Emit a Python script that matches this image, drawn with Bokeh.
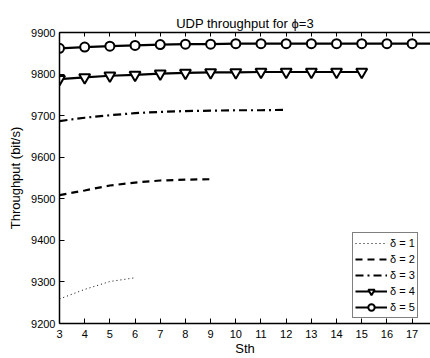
from bokeh.plotting import figure
from bokeh.models import Range1d, LinearAxis, FixedTicker, Legend, LegendItem
from bokeh.embed import file_html
from bokeh.resources import INLINE

# ---- data ----
sth_d1 = [3, 4, 5, 6]
thr_d1 = [9259, 9282, 9301, 9310]
sth_d2 = [3, 4, 5, 6, 7, 8, 9]
thr_d2 = [9509, 9520, 9532, 9539, 9544, 9546, 9547]
sth_d3 = [3, 4, 5, 6, 7, 8, 9, 10, 11, 12]
thr_d3 = [9687, 9695, 9701, 9706, 9709, 9711, 9712, 9713, 9713, 9714]
sth_d4 = [3, 4, 5, 6, 7, 8, 9, 10, 11, 12, 13, 14, 15]
thr_d4 = [9788, 9792, 9796, 9798, 9801, 9803, 9804, 9804, 9805, 9805, 9805, 9805, 9805]
sth_d5 = [3, 4, 5, 6, 7, 8, 9, 10, 11, 12, 13, 14, 15, 16, 17, 18]
thr_d5 = [9862, 9865, 9867, 9869, 9871, 9872, 9872, 9873, 9873, 9873, 9873, 9873, 9873, 9873, 9873, 9873]
labels = ["δ = 1", "δ = 2", "δ = 3", "δ = 4", "δ = 5"]
x_ticks = list(range(3, 19))
y_ticks = list(range(9200, 9901, 100))

FONT = "Liberation Sans"

p = figure(width=430, height=358, output_backend="svg", toolbar_location=None,
           x_range=Range1d(3, 17.73), y_range=Range1d(9200, 9900),
           min_border_left=59, min_border_right=0, min_border_bottom=32, min_border_top=32)
p.title.text = "UDP throughput for ϕ=3"
p.title.align = "center"
p.title.text_font = FONT
p.title.text_font_size = "13px"
p.title.text_font_style = "normal"
p.title.text_color = "black"
p.title.standoff = 4

p.grid.visible = False
p.outline_line_color = None
p.background_fill_color = "white"

for ax in (p.xaxis[0], p.yaxis[0]):
    ax.major_tick_in = 5
    ax.major_tick_out = 0
    ax.minor_tick_in = 0
    ax.minor_tick_out = 0
    ax.axis_line_width = 1.5
    ax.major_tick_line_width = 1
    ax.major_label_text_font = FONT
    ax.major_label_text_font_size = "11px"
    ax.major_label_text_color = "black"
    ax.axis_label_text_font = FONT
    ax.axis_label_text_font_size = "13px"
    ax.axis_label_text_font_style = "normal"
    ax.axis_label_text_color = "black"
    ax.major_label_standoff = 4

p.xaxis.ticker = FixedTicker(ticks=x_ticks)
p.yaxis.ticker = FixedTicker(ticks=y_ticks)
p.xaxis.major_label_standoff = 6
p.xaxis.axis_label = "Sth"
p.xaxis.axis_label_standoff = 0
p.yaxis.axis_label = "Throughput (bit/s)"
p.yaxis.axis_label_standoff = 5

top = LinearAxis(ticker=FixedTicker(ticks=x_ticks), major_tick_in=4, major_tick_out=0,
                 minor_tick_in=0, minor_tick_out=0, axis_line_width=1.5,
                 major_label_text_color=None, major_label_text_font_size="1px",
                 major_label_standoff=0)
p.add_layout(top, "above")

r1 = p.line(sth_d1, thr_d1, line_color="black", line_width=1, line_dash="1 3")
r2 = p.line(sth_d2, thr_d2, line_color="black", line_width=2.2, line_dash="7 5")
r3 = p.line(sth_d3, thr_d3, line_color="black", line_width=2.2, line_dash="8 4 2 4")
r4 = p.line(sth_d4, thr_d4, line_color="black", line_width=2.2)
m4 = p.scatter(sth_d4, thr_d4, marker="inverted_triangle", size=11, line_color="black",
               line_width=2, fill_color="white")
r5 = p.line(sth_d5, thr_d5, line_color="black", line_width=2.2)
m5 = p.scatter(sth_d5, thr_d5, marker="circle", size=9, line_color="black",
               line_width=2, fill_color="white")

legend = Legend(items=[
    LegendItem(label=labels[0], renderers=[r1]),
    LegendItem(label=labels[1], renderers=[r2]),
    LegendItem(label=labels[2], renderers=[r3]),
    LegendItem(label=labels[3], renderers=[r4, m4]),
    LegendItem(label=labels[4], renderers=[r5, m5]),
], location=(293, 5))
legend.label_text_font = FONT
legend.label_text_font_size = "11px"
legend.label_text_color = "black"
legend.glyph_width = 32
legend.glyph_height = 16
legend.label_height = 16
legend.label_standoff = 3
legend.spacing = 0
legend.padding = 2
legend.margin = 0
legend.border_line_color = "black"
legend.border_line_width = 1.5
legend.background_fill_alpha = 1
p.add_layout(legend, "center")

open("out.html", "w").write(file_html(p, INLINE))
